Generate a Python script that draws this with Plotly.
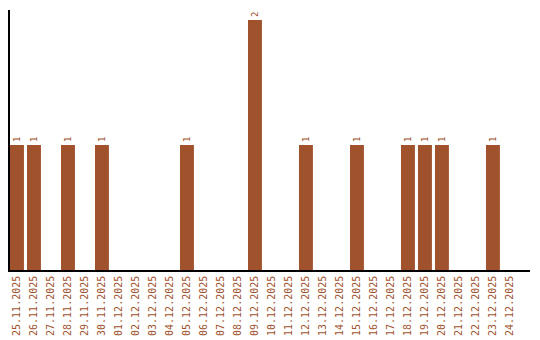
import plotly.graph_objects as go

dates = ["25.11.2025", "26.11.2025", "27.11.2025", "28.11.2025", "29.11.2025", "30.11.2025",
         "01.12.2025", "02.12.2025", "03.12.2025", "04.12.2025", "05.12.2025", "06.12.2025",
         "07.12.2025", "08.12.2025", "09.12.2025", "10.12.2025", "11.12.2025", "12.12.2025",
         "13.12.2025", "14.12.2025", "15.12.2025", "16.12.2025", "17.12.2025", "18.12.2025",
         "19.12.2025", "20.12.2025", "21.12.2025", "22.12.2025", "23.12.2025", "24.12.2025"]
counts = [1, 1, 0, 1, 0, 1, 0, 0, 0, 0, 1, 0, 0, 0, 2, 0, 0, 1, 0, 0, 1, 0, 0, 1, 1, 1, 0, 0, 1, 0]

color = "#A0522D"
labels = [str(v) if v else "" for v in counts]

fig = go.Figure(go.Bar(
    x=dates, y=counts, marker=dict(color=color, line=dict(width=0)),
    width=0.82,
    text=labels, textposition="outside", textangle=-90,
    textfont=dict(family="DejaVu Sans Mono", size=9, color=color),
    cliponaxis=False,
))
fig.update_layout(
    width=540, height=340,
    margin=dict(l=10, r=10, t=10, b=70),
    paper_bgcolor="white", plot_bgcolor="white",
    showlegend=False,
    xaxis=dict(type="category", range=[-0.41, 30.18], showgrid=False, showline=True,
               linecolor="black", linewidth=1.5, ticks="", tickangle=-90, automargin=False,
               tickfont=dict(family="DejaVu Sans Mono", size=10, color=color)),
    yaxis=dict(range=[0, 2.08], showgrid=False, showline=True, linecolor="black",
               linewidth=1.5, showticklabels=False, ticks="", zeroline=False, automargin=False),
)
fig.write_html("out.html")
